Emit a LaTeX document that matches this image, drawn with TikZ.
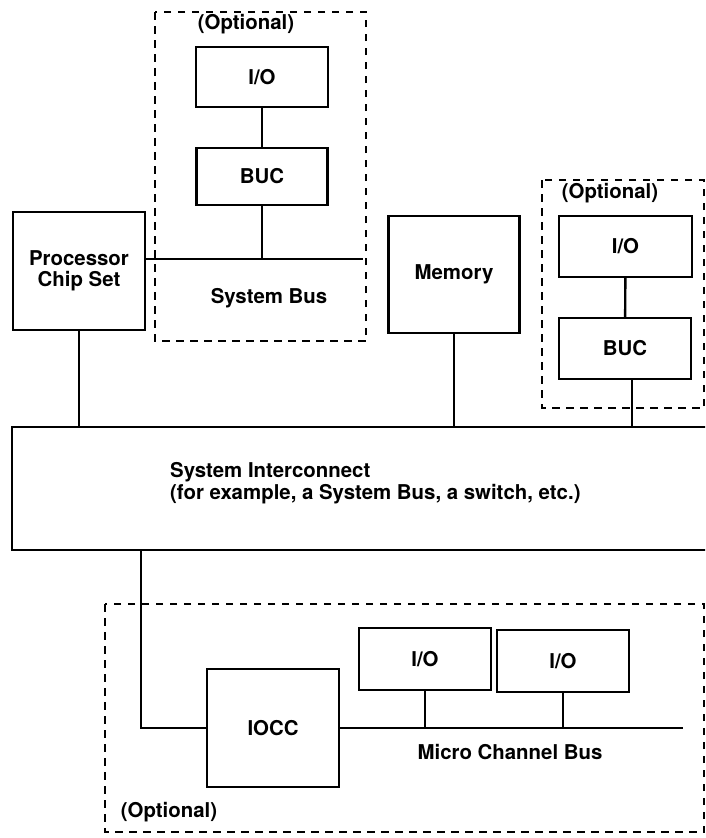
\documentclass[tikz,border=0pt]{standalone}
\usepackage{fontspec}
\setmainfont{TeX Gyre Heros}
\begin{document}
\begin{tikzpicture}[x=1pt,y=-1pt,
  txt/.style={font=\fontsize{20.4}{21.5}\selectfont\bfseries},
  box/.style={draw, line width=2.4pt, inner sep=0pt, txt, align=center},
  lbl/.style={inner sep=0pt, txt, align=center},
  wire/.style={line width=2.4pt},
  opt/.style={line width=2.6pt, dash pattern=on 7.5pt off 6.5pt}]
\useasboundingbox (0,0) rectangle (705,838);
\clip (0,0) rectangle (705,838);

% optional (dashed) groups
\draw[opt] (155,12) rectangle (366,341);
\draw[opt] (542,180) rectangle (704,408);
\draw[opt] (105,604) rectangle (704,832);

% nodes
\node[box, minimum width=132, minimum height=60] (io1) at (262,77) {I/O};
\node[box, minimum width=131, minimum height=57] (buc1) at (262,176.5) {BUC};
\node[box, minimum width=132, minimum height=118] (proc) at (79,271) {Processor\\Chip Set};
\node[box, minimum width=131, minimum height=117] (mem) at (454,274.5) {Memory};
\node[box, minimum width=133, minimum height=61] (io2) at (625.5,246.5) {I/O};
\node[box, minimum width=132, minimum height=61] (buc2) at (625,348.5) {BUC};
\node[box, minimum width=718, minimum height=123] (ic) at (371,488.5) {};
\node[lbl, anchor=west, align=left] (ict) at (170,483) {System Interconnect\\(for example, a System Bus, a switch, etc.)};
\node[box, minimum width=132, minimum height=118] (iocc) at (273,728) {IOCC};
\node[box, minimum width=132, minimum height=62] (io3) at (425,659) {I/O};
\node[box, minimum width=132, minimum height=62] (io4) at (563,661) {I/O};

% labels
\node[lbl] (opt1) at (246,24) {(Optional)};
\node[lbl] (sysbus) at (269,298) {System Bus};
\node[lbl] (opt2) at (610,193) {(Optional)};
\node[lbl] (mcb) at (510,752) {Micro Channel Bus};
\node[lbl] (opt3) at (169,812) {(Optional)};

% connectors
\coordinate (sbR) at (363,259);
\coordinate (bend) at (141,728);
\coordinate (mcbR) at (683,730);

\draw[wire] (io1) -- (buc1);
\draw[wire] (proc.east |- sbR) -- (sbR);
\draw[wire] (buc1) -- (buc1 |- sbR);
\draw[wire] (proc) -- (proc |- ic.north);
\draw[wire] (mem) -- (mem |- ic.north);
\draw[wire] (io2) -- (buc2);
\draw[wire] ([xshift=7pt]buc2.south) -- ([xshift=7pt]buc2.south |- ic.north);
\draw[wire] (ic.south -| bend) -- (bend) -- (iocc.west);
\draw[wire] (iocc.east) -- (iocc.east -| mcbR);
\draw[wire] (io3) -- (io3 |- iocc.east);
\draw[wire] (io4) -- (io4 |- iocc.east);
\end{tikzpicture}
\end{document}
